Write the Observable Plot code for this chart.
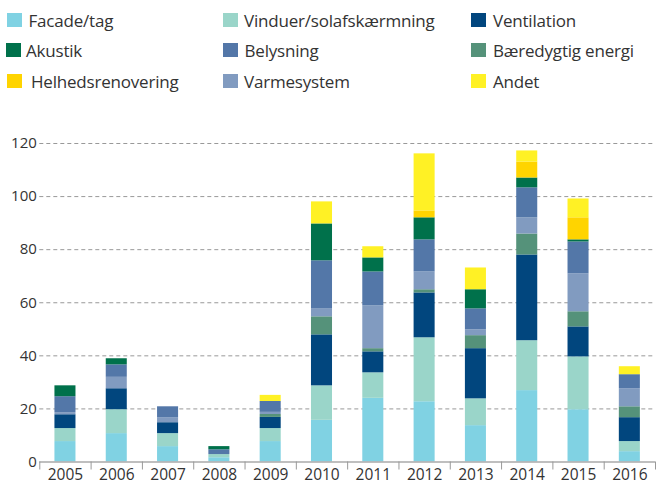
<!DOCTYPE html>
<html><head><meta charset="utf-8">
<script src="https://cdn.jsdelivr.net/npm/d3@7"></script>
<script src="https://cdn.jsdelivr.net/npm/@observablehq/plot@0.6"></script>
<style>
body{margin:0;background:#fff;font-family:"Open Sans",sans-serif;}
#legend{position:relative;height:100px;width:657px;}
.sw{position:absolute;width:15px;height:14px;}
.lt{position:absolute;font-size:17px;line-height:20px;color:#333;letter-spacing:-0.2px;white-space:nowrap;}
#chart{height:386px;}
</style></head><body>
<div id="legend"></div><div id="chart"></div>
<script>
const years = [2005, 2006, 2007, 2008, 2009, 2010, 2011, 2012, 2013, 2014, 2015, 2016];
const yTicks = [0, 20, 40, 60, 80, 100, 120];

// stack order, bottom to top
const categories = ["Facade/tag", "Vinduer/solafskærmning", "Ventilation", "Bæredygtig energi", "Varmesystem", "Belysning", "Akustik", "Helhedsrenovering", "Andet"];
const colors = ["#80d2e3", "#9ad5c9", "#01467e", "#55927a", "#819bc0", "#5377a8", "#00714b", "#ffd400", "#fff125"];
// legend order (row by row)
const legendOrder = ["Facade/tag", "Vinduer/solafskærmning", "Ventilation", "Akustik", "Belysning", "Bæredygtig energi", "Helhedsrenovering", "Varmesystem", "Andet"];

const facade      = [7.7, 10.7, 5.8, 1.6, 7.7, 15.7, 24.0, 22.7, 13.7, 26.9, 19.7, 3.9];
const vinduer     = [4.9, 9.0, 4.9, 1.2, 4.9, 13.0, 9.6, 24.1, 10.1, 18.8, 19.9, 3.8];
const ventilation = [5.2, 7.9, 4.1, 0, 4.2, 19.2, 7.9, 16.9, 18.9, 32.3, 11.3, 9.0];
const baeredygtig = [0, 0, 0, 0, 1.1, 6.8, 1.2, 1.2, 4.9, 7.9, 5.7, 4.1];
const varmesystem = [0.8, 4.3, 1.9, 0, 0.8, 3.1, 16.1, 6.7, 2.2, 6.1, 14.3, 6.8];
const belysning   = [6.0, 4.7, 4.1, 1.8, 4.1, 18.0, 12.8, 12.1, 7.9, 11.3, 12.0, 5.3];
const akustik     = [4.1, 2.3, 0, 1.2, 0, 13.9, 5.3, 8.3, 7.2, 3.7, 0.8, 0];
const helhed      = [0, 0, 0, 0, 0, 0, 0, 2.6, 0, 6.0, 8.3, 0];
const andet       = [0, 0, 0, 0, 2.3, 8.3, 4.2, 21.5, 8.2, 4.2, 7.1, 3.0];

const series = [facade, vinduer, ventilation, baeredygtig, varmesystem, belysning, akustik, helhed, andet];
const data = [];
years.forEach((yr, i) => categories.forEach((c, k) => data.push({year: yr, category: c, value: series[k][i]})));
const edges = [years[0] - 0.5, ...years.map(y => y + 0.5)];
const halfBar = 0.205;

// legend layout
const leg = document.getElementById("legend");
const swX = [7, 223, 471, 6, 223, 471, 7, 223, 471];
const txX = [28.5, 244, 493, 26, 244.5, 493, 31, 244, 493];
const swY = [12.5, 42.5, 73.5];
legendOrder.forEach((c, i) => {
  const r = Math.floor(i / 3);
  const sw = document.createElement("div");
  sw.className = "sw";
  sw.style.left = swX[i] + "px";
  sw.style.top = swY[r] + "px";
  sw.style.background = colors[categories.indexOf(c)];
  leg.appendChild(sw);
  const t = document.createElement("div");
  t.className = "lt";
  t.style.left = txX[i] + "px";
  t.style.top = (swY[r] - 2) + "px";
  t.textContent = c;
  leg.appendChild(t);
});

const chart = Plot.plot({
  width: 657, height: 386,
  marginLeft: 39.3, marginRight: 2, marginTop: 43, marginBottom: 24.5,
  style: {fontFamily: "Open Sans", fontSize: "15px", color: "#333", background: "#fff"},
  x: {type: "linear", domain: [edges[0], edges[edges.length - 1]]},
  y: {domain: [0, 120]},
  color: {domain: categories, range: colors},
  marks: [
    Plot.ruleY(yTicks.filter(d => d > 0), {stroke: "#999", strokeDasharray: "4,3"}),
    Plot.rectY(data, Plot.stackY({
      x1: d => d.year - halfBar, x2: d => d.year + halfBar,
      y: "value", fill: "category", order: categories
    })),
    Plot.ruleY([0], {stroke: "#aaa", strokeWidth: 1.5}),
    Plot.axisX({ticks: edges, tickSize: 8, tickFormat: () => "", stroke: "#999", label: null}),
    Plot.axisX({ticks: years, tickSize: 0, tickPadding: 7, tickFormat: "d", label: null, fontSize: 15.5, style: {letterSpacing: "0.6px"}}),
    Plot.axisY({ticks: yTicks, tickSize: 0, tickPadding: 3, label: null, style: {letterSpacing: "1.5px"}})
  ]
});
document.getElementById("chart").appendChild(chart);
</script>
</body></html>
